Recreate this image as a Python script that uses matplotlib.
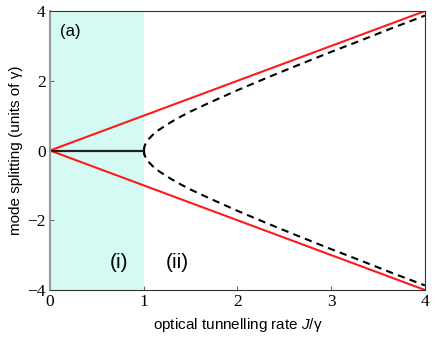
import matplotlib
matplotlib.use("Agg")
import matplotlib.pyplot as plt

plt.rcParams["mathtext.fontset"] = "custom"
plt.rcParams["mathtext.rm"] = "Liberation Sans"
plt.rcParams["mathtext.it"] = "Liberation Sans:italic"
plt.rcParams["font.family"] = ["Liberation Sans", "DejaVu Sans"]

# values
J_red = [0, 4]
red_upper = [0, 4]
red_lower = [0, -4]

J_solid = [0, 1]
solid_val = [0, 0]

J_dash = [1.0, 1.01, 1.03, 1.06, 1.1, 1.15, 1.2, 1.3, 1.4, 1.5, 1.7, 2.0, 2.3, 2.6, 3.0, 3.3, 3.6, 4.0]
dash_upper = [0.0, 0.14, 0.25, 0.35, 0.46, 0.57, 0.66, 0.83, 0.98, 1.12, 1.37, 1.73, 2.07, 2.40, 2.83, 3.14, 3.46, 3.87]

shade_x = [0, 1]
xticks = [0, 1, 2, 3, 4]
yticks = [-4, -2, 0, 2, 4]

fig = plt.figure(figsize=(4.36, 3.41), dpi=100)
ax = fig.add_axes([0.1147, 0.1496, 0.860, 0.818])

ax.axvspan(shade_x[0], shade_x[1], color="#d4faf3", lw=0, zorder=0)
ax.plot(J_red, red_upper, color="#ff1a1a", lw=1.5)
ax.plot(J_red, red_lower, color="#ff1a1a", lw=1.5)
ax.plot(J_solid, solid_val, color="#222222", lw=1.6)
ax.plot([J_solid[-1]], [solid_val[-1]], marker="|", ms=6, color="#222222", mew=1.4)
ax.plot(J_dash, dash_upper, color="black", lw=1.5, ls=(0, (3.5, 2.5)))
ax.plot(J_dash, [-v for v in dash_upper], color="black", lw=1.5, ls=(0, (3.5, 2.5)))

ax.set_xlim(0, 4)
ax.set_ylim(-4, 4)
ax.set_xticks(xticks)
ax.set_yticks(yticks)
ax.set_xticklabels([str(t) for t in xticks], fontfamily="Liberation Serif", fontsize=12.5)
ax.set_yticklabels([str(t).replace("-", "\u2212") for t in yticks], fontfamily="Liberation Serif", fontsize=12.5)
ax.tick_params(direction="in", length=3, width=0.6, colors="#444444", labelcolor="black", pad=3)

for s in ax.spines.values():
    s.set_color("#333333")
    s.set_linewidth(0.8)
ax.spines["left"].set_color("#999999")
ax.spines["left"].set_linewidth(1.5)

ax.set_xlabel("optical tunnelling rate $J$/\u03b3", fontsize=11, labelpad=4)
ax.set_ylabel("mode splitting (units of \u03b3)", fontsize=11, labelpad=3)

ax.text(0.11, 3.4, "(a)", fontsize=12, va="center")
ax.text(0.64, -3.2, "(i)", fontsize=15, va="center")
ax.text(1.24, -3.2, "(ii)", fontsize=15, va="center")

fig.savefig("out.png", dpi=100)
